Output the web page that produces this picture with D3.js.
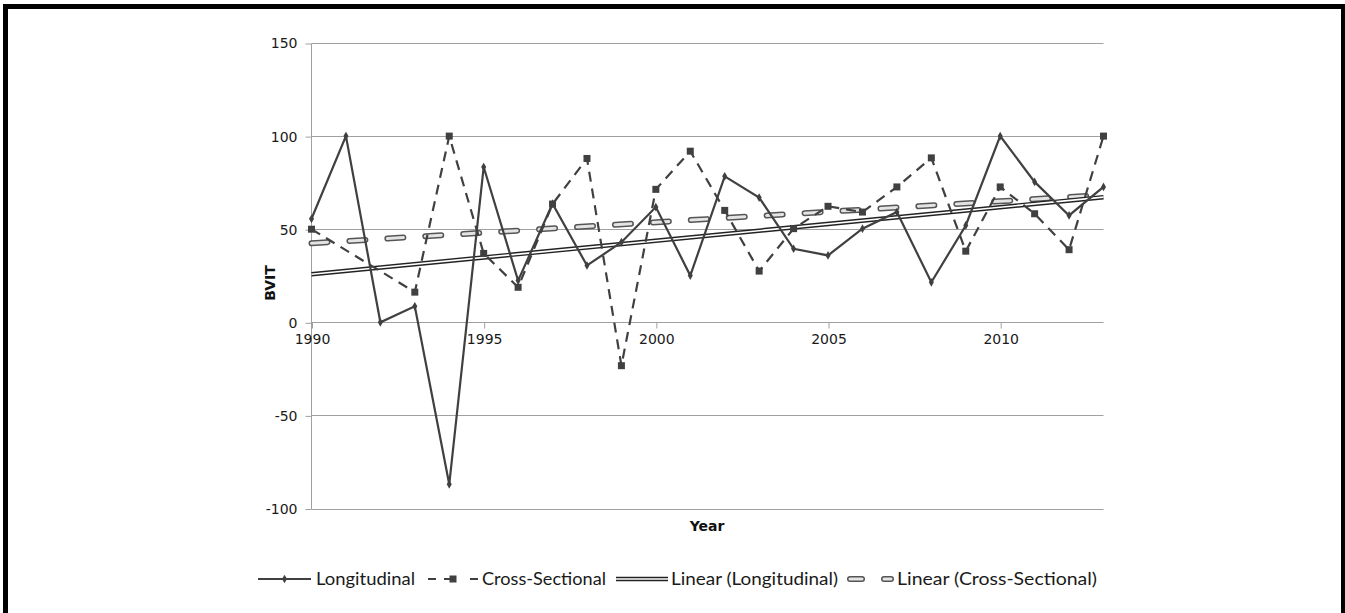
<!DOCTYPE html>
<html>
<head>
<meta charset="utf-8">
<script src="https://cdn.jsdelivr.net/npm/d3@7"></script>
<style>
  html, body { margin: 0; padding: 0; background: #fff; }
  svg { display: block; }
</style>
</head>
<body>
<div id="chart"></div>
<script>
// data
const years = d3.range(1990, 2014);
const longitudinal = [55.6, 100, 0, 8.6, -87, 83.4, 22.4, 63.7, 30.5, 43, 61.9, 25.1,
  78.4, 67, 39.5, 35.9, 50.3, 59.2, 21.5, 52, 100, 75.4, 57.4, 72.7];
const crossSectional = [50, null, null, 16.2, 100, 37, 18.8, 63.5, 88, -23.3, 71.4, 91.9,
  60.1, 27.5, 50.3, 62.3, 59.2, 72.7, 88.3, 38.2, 72.7, 58.3, 39, 100];
const yTicks = [-100, -50, 0, 50, 100, 150];
const xTicks = [1990, 1995, 2000, 2005, 2010];
const legendNames = ["Longitudinal", "Cross-Sectional", "Linear (Longitudinal)", "Linear (Cross-Sectional)"];

const width = 1345, height = 613;
const ink = "#404040";

const svg = d3.select("#chart").append("svg")
  .attr("width", width)
  .attr("height", height);

// frame
svg.append("rect")
  .attr("x", 5.5).attr("y", 6.5)
  .attr("width", 1338).attr("height", 700)
  .attr("fill", "none").attr("stroke", "#000").attr("stroke-width", 5);

const x = d3.scaleLinear().domain([1990, 2013]).range([311.5, 1103.5]);
const y = d3.scaleLinear().domain([-100, 150]).range([508.5, 43]);

// gridlines
svg.append("g")
  .selectAll("line")
  .data(yTicks)
  .join("line")
  .attr("x1", x(1990)).attr("x2", x(2013))
  .attr("y1", d => Math.round(y(d)) + 0.5).attr("y2", d => Math.round(y(d)) + 0.5)
  .attr("stroke", "#a0a0a0").attr("stroke-width", 1);

// y axis
const yAxis = svg.append("g")
  .attr("transform", `translate(${x(1990)},0.5)`)
  .call(d3.axisLeft(y).tickValues(yTicks).tickFormat(d => String(d)).tickSize(6).tickPadding(8));
yAxis.select(".domain").attr("stroke", "#a0a0a0").attr("d", `M-0,${y(150)}V${y(-100)}`);
yAxis.selectAll(".tick line").attr("stroke", "#a0a0a0");
yAxis.selectAll(".tick text")
  .attr("font-family", "DejaVu Sans, Verdana, sans-serif")
  .attr("font-size", 14).attr("fill", "#1a1a1a");

// x axis sitting on zero
const xAxis = svg.append("g")
  .attr("transform", `translate(0.5,${Math.round(y(0)) + 0.5})`)
  .call(d3.axisBottom(x).tickValues(xTicks).tickFormat(d3.format("d")).tickSize(6).tickPadding(6));
xAxis.select(".domain").remove();
xAxis.selectAll(".tick line").attr("stroke", "#a0a0a0");
xAxis.selectAll(".tick text")
  .attr("font-family", "DejaVu Sans, Verdana, sans-serif")
  .attr("font-size", 14).attr("fill", "#1a1a1a");

// axis titles
svg.append("text")
  .attr("transform", `translate(275,283) rotate(-90)`)
  .attr("text-anchor", "middle")
  .attr("font-family", "DejaVu Sans, Verdana, sans-serif")
  .attr("font-weight", "bold").attr("font-size", 14)
  .attr("fill", "#111")
  .text("BVIT");
svg.append("text")
  .attr("x", 707).attr("y", 531)
  .attr("text-anchor", "middle")
  .attr("font-family", "DejaVu Sans, Verdana, sans-serif")
  .attr("font-weight", "bold").attr("font-size", 14)
  .attr("fill", "#111")
  .text("Year");

// linear trend (least squares on year, blanks skipped)
function trend(values) {
  const pts = values.map((v, i) => [years[i], v]).filter(p => p[1] != null);
  const mx = d3.mean(pts, p => p[0]), my = d3.mean(pts, p => p[1]);
  const b = d3.sum(pts, p => (p[0] - mx) * (p[1] - my)) / d3.sum(pts, p => (p[0] - mx) ** 2);
  const a = my - b * mx;
  return [[1990, a + b * 1990], [2013, a + b * 2013]];
}

const line = d3.line()
  .defined(d => d[1] != null)
  .x(d => x(d[0]))
  .y(d => y(d[1]));

const longPts = years.map((yr, i) => [yr, longitudinal[i]]);
const crossPts = years.map((yr, i) => [yr, crossSectional[i]]).filter(d => d[1] != null);

// trendlines
const tLong = trend(longitudinal);
const tCross = trend(crossSectional);

svg.append("path").attr("d", line(tCross))
  .attr("fill", "none").attr("stroke", "#555").attr("stroke-width", 6)
  .attr("stroke-linecap", "round").attr("stroke-dasharray", "16,22");
svg.append("path").attr("d", line(tCross))
  .attr("fill", "none").attr("stroke", "#e4e4e4").attr("stroke-width", 3)
  .attr("stroke-linecap", "round").attr("stroke-dasharray", "16,22");

svg.append("path").attr("d", line(tLong))
  .attr("fill", "none").attr("stroke", "#222").attr("stroke-width", 4.5);
svg.append("path").attr("d", line(tLong))
  .attr("fill", "none").attr("stroke", "#fff").attr("stroke-width", 1.6);

// series
svg.append("path").attr("d", line(crossPts))
  .attr("fill", "none").attr("stroke", ink).attr("stroke-width", 2.2)
  .attr("stroke-dasharray", "10,7");
svg.append("path").attr("d", line(longPts))
  .attr("fill", "none").attr("stroke", ink).attr("stroke-width", 2.2);

svg.append("g").selectAll("rect")
  .data(crossPts)
  .join("rect")
  .attr("x", d => x(d[0]) - 3.5).attr("y", d => y(d[1]) - 3.5)
  .attr("width", 7).attr("height", 7)
  .attr("fill", ink);

const diamond = d3.symbol().type(d3.symbolDiamond).size(22);
svg.append("g").selectAll("path")
  .data(longPts)
  .join("path")
  .attr("transform", d => `translate(${x(d[0])},${y(d[1])})`)
  .attr("d", diamond)
  .attr("fill", ink);

// legend
const legendY = 579;
const legend = svg.append("g").attr("font-family", "Lato, Calibri, sans-serif")
  .attr("font-size", 18).attr("fill", "#1a1a1a");

const items = [
  { x0: 258, x1: 311, tx: 316, w: 99 },
  { x0: 428, x1: 478, tx: 482, w: 124 },
  { x0: 616, x1: 668, tx: 671, w: 167 },
  { x0: 847, x1: 894, tx: 897, w: 200 }
];

// 1: solid + diamond
legend.append("line").attr("x1", items[0].x0).attr("x2", items[0].x1)
  .attr("y1", legendY).attr("y2", legendY).attr("stroke", ink).attr("stroke-width", 2.2);
legend.append("path").attr("transform", `translate(${(items[0].x0 + items[0].x1) / 2},${legendY})`)
  .attr("d", diamond).attr("fill", ink);
// 2: dashed + square
legend.append("line").attr("x1", items[1].x0).attr("x2", items[1].x1)
  .attr("y1", legendY).attr("y2", legendY).attr("stroke", ink).attr("stroke-width", 2.2)
  .attr("stroke-dasharray", "8,8,8,18,8");
legend.append("rect").attr("x", (items[1].x0 + items[1].x1) / 2 - 3.5).attr("y", legendY - 3.5)
  .attr("width", 7).attr("height", 7).attr("fill", ink);
// 3: double line
legend.append("line").attr("x1", items[2].x0).attr("x2", items[2].x1)
  .attr("y1", legendY).attr("y2", legendY).attr("stroke", "#222").attr("stroke-width", 4.5);
legend.append("line").attr("x1", items[2].x0).attr("x2", items[2].x1)
  .attr("y1", legendY).attr("y2", legendY).attr("stroke", "#fff").attr("stroke-width", 1.6);
// 4: dashed capsule
legend.append("line").attr("x1", items[3].x0 + 3).attr("x2", items[3].x1 - 3)
  .attr("y1", legendY).attr("y2", legendY).attr("stroke", "#555").attr("stroke-width", 6)
  .attr("stroke-linecap", "round").attr("stroke-dasharray", "12,22");
legend.append("line").attr("x1", items[3].x0 + 3).attr("x2", items[3].x1 - 3)
  .attr("y1", legendY).attr("y2", legendY).attr("stroke", "#e4e4e4").attr("stroke-width", 3)
  .attr("stroke-linecap", "round").attr("stroke-dasharray", "12,22");

legend.selectAll("text.lbl")
  .data(legendNames)
  .join("text")
  .attr("class", "lbl")
  .attr("x", (d, i) => items[i].tx)
  .attr("y", legendY + 6)
  .attr("textLength", (d, i) => items[i].w)
  .attr("lengthAdjust", "spacingAndGlyphs")
  .text(d => d);
</script>
</body>
</html>
